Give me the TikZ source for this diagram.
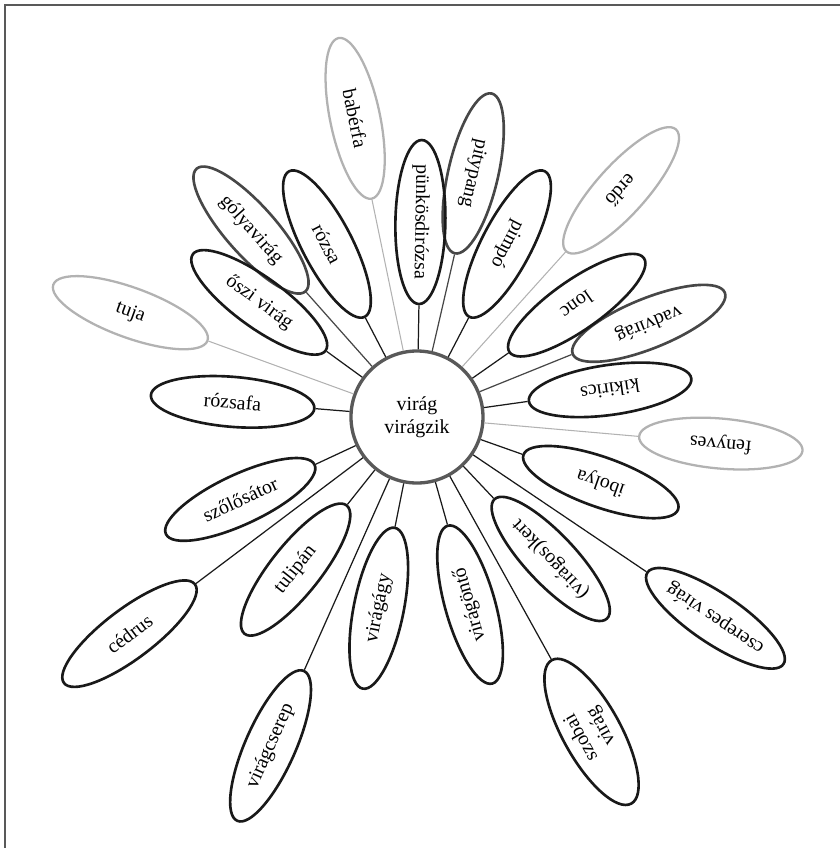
\documentclass[tikz,border=0pt]{standalone}
\usepackage{fontspec}
\setmainfont{Liberation Serif}
\usetikzlibrary{shapes.geometric}

\begin{document}
\begin{tikzpicture}[
    petal/.style={ellipse, draw=black!90, line width=1.5pt, minimum width=3.28cm,
        minimum height=1cm, inner sep=0pt, align=center, font=\fontsize{11.3}{13}\selectfont},
    darkpetal/.style={petal, draw=black!72},
    lightpetal/.style={petal, draw=black!30, line width=1.3pt},
    stem/.style={black!90, line width=0.7pt},
    darkstem/.style={black!72, line width=0.7pt},
    lightstem/.style={black!30, line width=0.6pt}
]
    \useasboundingbox (-8.34,-8.62) rectangle (8.46,8.34);

    % Frame (top and left edge only)
    \draw[black!65, line width=1.1pt] (-8.24,-8.62) -- (-8.24,8.24) -- (8.46,8.24);

    % Centre of the flower
    \node[circle, draw=black!65, line width=1.9pt, minimum size=2.64cm, align=center,
        font=\fontsize{11.3}{13}\selectfont] (hub) at (0,0) {virág\\virágzik};

    % Petals, right side
    \node[lightpetal, rotate=175] (fenyves) at (-5:6.1) {fenyves};
    \node[petal, rotate=188] (kikirics) at (8:3.9) {kikirics};
    \node[darkpetal, rotate=202] (vadvirag) at (22:5.0) {vadvirág};
    \node[petal, rotate=215] (lonc) at (35:3.9) {lonc};
    \node[lightpetal, rotate=228] (erdo) at (48:6.1) {erdő};
    \node[petal, rotate=242.5] (pimpo) at (62.5:3.9) {pimpó};
    \node[darkpetal, rotate=257] (pitypang) at (77:5.0) {pitypang};
    \node[petal, rotate=269] (punkosd) at (89:3.9) {pünkösdirózsa};

    % Petals, left side
    \node[lightpetal, rotate=281.7] (baberfa) at (101.7:6.1) {babérfa};
    \node[petal, rotate=297.5] (rozsa) at (117.5:3.9) {rózsa};
    \node[darkpetal, rotate=311.6] (golya) at (131.6:5.0) {gólyavirág};
    \node[petal, rotate=324] (oszi) at (144:3.9) {őszi virág};
    \node[lightpetal, rotate=340] (tuja) at (160:6.1) {tuja};
    \node[petal, rotate=355.3] (rozsafa) at (175.3:3.7) {rózsafa};
    \node[petal, rotate=25] (szolo) at (205:3.9) {szőlősátor};
    \node[petal, rotate=37] (cedrus) at (217:7.2) {cédrus};

    % Petals, bottom
    \node[petal, rotate=51.5] (tulipan) at (231.5:3.9) {tulipán};
    \node[petal, rotate=66] (cserep) at (246:7.2) {virágcserep};
    \node[petal, rotate=78.7] (viragagy) at (258.7:3.9) {virágágy};
    \node[petal, rotate=105.8] (ontozo) at (285.8:3.9) {virágöntő};
    \node[petal, rotate=119] (szobai) at (299:7.2) {szobai\\virág};
    \node[petal, rotate=133.3] (kert) at (313.3:3.9) {(virágos)kert};
    \node[petal, rotate=146] (cserepes) at (326:7.2) {cserepes virág};
    \node[petal, rotate=160.5] (ibolya) at (340.5:3.9) {ibolya};

    % Stems
    \draw[lightstem] (hub) -- (fenyves);
    \draw[stem] (hub) -- (kikirics);
    \draw[darkstem] (hub) -- (vadvirag);
    \draw[stem] (hub) -- (lonc);
    \draw[lightstem] (hub) -- (erdo);
    \draw[stem] (hub) -- (pimpo);
    \draw[darkstem] (hub) -- (pitypang);
    \draw[stem] (hub) -- (punkosd);
    \draw[lightstem] (hub) -- (baberfa);
    \draw[stem] (hub) -- (rozsa);
    \draw[darkstem] (hub) -- (golya);
    \draw[stem] (hub) -- (oszi);
    \draw[lightstem] (hub) -- (tuja);
    \draw[stem] (hub) -- (rozsafa);
    \draw[stem] (hub) -- (szolo);
    \draw[stem] (hub) -- (cedrus);
    \draw[stem] (hub) -- (tulipan);
    \draw[stem] (hub) -- (cserep);
    \draw[stem] (hub) -- (viragagy);
    \draw[stem] (hub) -- (ontozo);
    \draw[stem] (hub) -- (szobai);
    \draw[stem] (hub) -- (kert);
    \draw[stem] (hub) -- (cserepes);
    \draw[stem] (hub) -- (ibolya);

\end{tikzpicture}
\end{document}
